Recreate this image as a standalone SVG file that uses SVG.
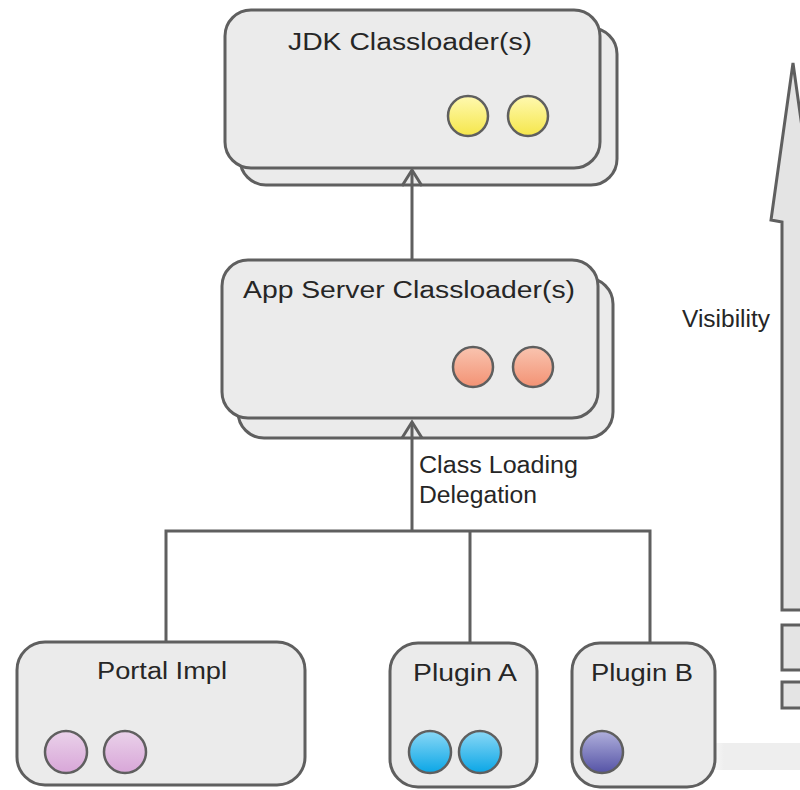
<svg xmlns="http://www.w3.org/2000/svg" width="800" height="790" viewBox="0 0 800 790">
  <defs>
    <style>
      .box { fill: #ebebeb; stroke: #5f5f5f; stroke-width: 3; }
      .label { font-family: "Liberation Sans", Arial, sans-serif; font-size: 23px; fill: #262626; }
      .wire { fill: none; stroke: #5f5f5f; stroke-width: 3; }
      .dot { stroke: #5f5f5f; stroke-width: 2.5; }
      .side { fill: #e4e4e4; stroke: #5f5f5f; stroke-width: 3; }
    </style>
    <linearGradient id="gYellow" x1="0" y1="0" x2="0" y2="1">
      <stop offset="0" stop-color="#fff9b0"/>
      <stop offset="1" stop-color="#f5e64a"/>
    </linearGradient>
    <linearGradient id="gOrange" x1="0" y1="0" x2="0" y2="1">
      <stop offset="0" stop-color="#f9c4b0"/>
      <stop offset="1" stop-color="#f39274"/>
    </linearGradient>
    <linearGradient id="gPink" x1="0" y1="0" x2="0" y2="1">
      <stop offset="0" stop-color="#ead2ea"/>
      <stop offset="1" stop-color="#d8a6d8"/>
    </linearGradient>
    <linearGradient id="gBlue" x1="0" y1="0" x2="0" y2="1">
      <stop offset="0" stop-color="#8ad8f6"/>
      <stop offset="1" stop-color="#0aa6e6"/>
    </linearGradient>
    <linearGradient id="gIndigo" x1="0" y1="0" x2="0" y2="1">
      <stop offset="0" stop-color="#b0b0dc"/>
      <stop offset="1" stop-color="#5553a6"/>
    </linearGradient>
    <linearGradient id="gShaft" x1="0" y1="0" x2="0" y2="1">
      <stop offset="0" stop-color="#f4f4f4"/>
      <stop offset="1" stop-color="#e2e2e2"/>
    </linearGradient>
    <linearGradient id="gBand" x1="0" y1="0" x2="1" y2="0">
      <stop offset="0" stop-color="#eeeeee" stop-opacity="0"/>
      <stop offset="0.2" stop-color="#eeeeee"/>
      <stop offset="1" stop-color="#eeeeee"/>
    </linearGradient>
    <marker id="head" markerUnits="userSpaceOnUse" markerWidth="24" markerHeight="24" viewBox="-18 -12 20 24" refX="0" refY="0" orient="auto">
      <path d="M-16,-10 L0,0 L-16,10" fill="none" stroke="#5f5f5f" stroke-width="3"/>
    </marker>
  </defs>

  <rect x="0" y="0" width="800" height="790" fill="#ffffff"/>

  <!-- floor band along the lower edge -->
  <rect x="705" y="743" width="95" height="27" fill="url(#gBand)"/>

  <!-- visibility arrow on the right margin -->
  <g id="visibility">
    <path class="side" d="M782,610 L782,222 L771,220 L793,63 L815,220 L804,222 L804,610 Z" fill="url(#gShaft)"/>
    <rect class="side" x="782" y="625" width="30" height="45"/>
    <rect class="side" x="782" y="682" width="30" height="26"/>
    <text class="label" x="682" y="327" textLength="88" lengthAdjust="spacingAndGlyphs">Visibility</text>
  </g>

  <g id="jdk">
    <rect class="box" x="240" y="28" width="377" height="157" rx="26"/>
    <rect class="box" x="225" y="10" width="375" height="158" rx="26"/>
    <text class="label" x="288" y="50" textLength="244" lengthAdjust="spacingAndGlyphs">JDK Classloader(s)</text>
    <circle class="dot" cx="468" cy="116" r="20" fill="url(#gYellow)"/>
    <circle class="dot" cx="528" cy="116" r="20" fill="url(#gYellow)"/>
  </g>

  <g id="appserver">
    <rect class="box" x="238" y="278" width="375" height="160" rx="26"/>
    <rect class="box" x="222" y="260" width="376" height="158" rx="26"/>
    <text class="label" x="243" y="298" textLength="332" lengthAdjust="spacingAndGlyphs">App Server Classloader(s)</text>
    <circle class="dot" cx="473" cy="367" r="20" fill="url(#gOrange)"/>
    <circle class="dot" cx="533" cy="367" r="20" fill="url(#gOrange)"/>
  </g>

  <g id="portal">
    <rect class="box" x="17" y="642" width="288" height="143" rx="28"/>
    <text class="label" x="97" y="679" textLength="130" lengthAdjust="spacingAndGlyphs">Portal Impl</text>
    <circle class="dot" cx="66" cy="752" r="21" fill="url(#gPink)"/>
    <circle class="dot" cx="125" cy="752" r="21" fill="url(#gPink)"/>
  </g>

  <g id="pluginA">
    <rect class="box" x="390" y="643" width="147" height="144" rx="28"/>
    <text class="label" x="413" y="681" textLength="104" lengthAdjust="spacingAndGlyphs">Plugin A</text>
    <circle class="dot" cx="430" cy="752" r="21" fill="url(#gBlue)"/>
    <circle class="dot" cx="480" cy="752" r="21" fill="url(#gBlue)"/>
  </g>

  <g id="pluginB">
    <rect class="box" x="572" y="643" width="143" height="144" rx="28"/>
    <text class="label" x="591" y="681" textLength="102" lengthAdjust="spacingAndGlyphs">Plugin B</text>
    <circle class="dot" cx="602" cy="752" r="21" fill="url(#gIndigo)"/>
  </g>

  <g id="connectors">
    <line class="wire" x1="412" y1="260" x2="412" y2="170" marker-end="url(#head)"/>
    <line class="wire" x1="412" y1="531" x2="412" y2="422" marker-end="url(#head)"/>
    <polyline class="wire" points="166,642 166,531 650,531 650,643"/>
    <line class="wire" x1="470" y1="531" x2="470" y2="643"/>
    <text class="label" x="419" y="473" textLength="159" lengthAdjust="spacingAndGlyphs">Class Loading</text>
    <text class="label" x="419" y="503" textLength="118" lengthAdjust="spacingAndGlyphs">Delegation</text>
  </g>
</svg>
